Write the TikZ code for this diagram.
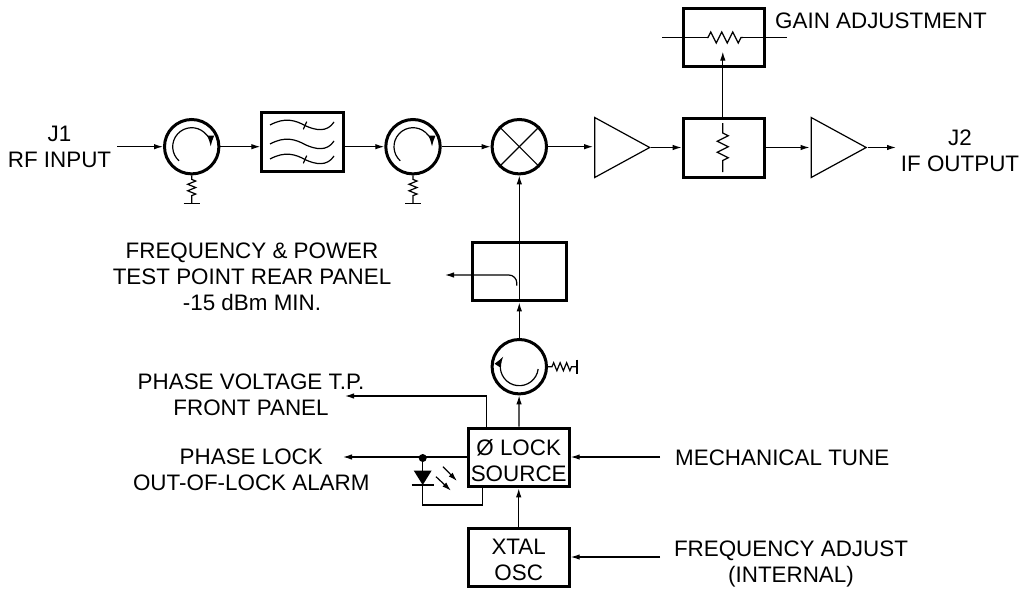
\documentclass[tikz,border=0pt]{standalone}
\usepackage{fontspec}
\setmainfont{Liberation Sans}
\usetikzlibrary{arrows.meta}
\usetikzlibrary{positioning}
\usetikzlibrary{shapes.geometric}
\usetikzlibrary{decorations.pathmorphing}
\tikzset{
    tag/.style={font=\fontsize{22.4pt}{26pt}\selectfont, align=center, inner sep=0pt},
    unit/.style={draw, line width=3pt, minimum width=81.3pt, minimum height=58.7pt, inner sep=0pt},
    smallunit/.style={unit, tag, minimum width=101pt},
    disc/.style={draw, circle, line width=3pt, minimum size=54.4pt, inner sep=0pt},
    amp/.style={draw, line width=1.2pt, isosceles triangle, isosceles triangle stretches, shape border rotate=0,
        minimum width=60pt, minimum height=55pt, inner sep=0pt},
    wire/.style={line width=1.2pt},
    link/.style={wire, -{Latex[length=9pt,width=5.5pt]}},
    spin/.style={wire, -{Latex[length=11pt,width=7pt]}},
    zig/.style={wire, decorate, decoration={zigzag, segment length=6.5pt, amplitude=4pt, pre length=4pt, post length=5pt}},
    bigzig/.style={wire, decorate, decoration={zigzag, segment length=11pt, amplitude=5.5pt, pre length=1pt, post length=1pt}},
}
\begin{document}
\begin{tikzpicture}[x=1pt, y=-1pt]
    \useasboundingbox (0,0) rectangle (1025,589);
    % top row
    \node [disc] (mixer) at (519.3,146.7) {};
    \node [disc, left=48.9pt of mixer] (circB) {};
    \node [disc] (circA) at (191.7,146.7) {};
    \node [unit] (filter) at (302.5,142) {};
    \node [amp] (ampA) at (612.5,147.5) {};
    \node [unit] (atten) at (723.8,148) {};
    \node [amp] (ampB) at (829,147.5) {};
    \node [unit, above=48.7pt of atten] (gain) {};
    % vertical chain
    \node [unit, minimum width=94pt, below=65.3pt of mixer] (coupler) {};
    \node [disc, below=35.6pt of coupler] (circC) {};
    \node [smallunit] (lock) at (518.7,457.5) {\rule{0pt}{23pt}Ø LOCK\\SOURCE};
    \node [smallunit, below=38.4pt of lock] (xtal) {\rule{0pt}{20pt}XTAL\\OSC};
    % labels
    \node [tag] (j1) at (59.5,147) {J1\\RF INPUT};
    \node [tag] (j2) at (960,151) {J2\\IF OUTPUT};
    \node [tag, anchor=west] (gainlab) at (775,21) {GAIN ADJUSTMENT};
    \node [tag] (testlab) at (252,277) {FREQUENCY \& POWER\\TEST POINT REAR PANEL\\-15 dBm MIN.};
    \node [tag] (phaselab) at (251,394.5) {PHASE VOLTAGE T.P.\\FRONT PANEL};
    \node [tag] (alarmlab) at (251.3,470) {PHASE LOCK\\OUT-OF-LOCK ALARM};
    \node [tag, anchor=west] (mechlab) at (675,458) {MECHANICAL TUNE};
    \node [tag] (freqlab) at (791,564) {FREQUENCY ADJUST\\(INTERNAL)};
    % free ends
    \coordinate (j1east) at (117,146.7);
    \coordinate (j2west) at (896,147.5);
    \coordinate (mechend) at (660,457);
    \coordinate (freqend) at (660,557);
    \coordinate (tapend) at (445,275);
    \coordinate (phaseend) at (345,396);
    \coordinate (alarmend) at (343,457);
    \coordinate (dot) at (422.7,458);
    \coordinate (ledtop) at (422.7,485);
    \coordinate (ledfoot) at (422.7,505);
    \coordinate (ledret) at (482.7,505);
    % top row connectors
    \draw [link] (j1east) -- (circA);
    \draw [link] (circA) -- (filter.west |- circA);
    \draw [link] (filter.east |- circB) -- (circB);
    \draw [link] (circB) -- (mixer);
    \draw [link] (mixer) -- ([xshift=-1pt]ampA.lower side |- mixer);
    \draw [link] (ampA.apex) -- (atten.west |- ampA.apex);
    \draw [link] (atten.east |- ampB.apex) -- ([xshift=-1pt]ampB.lower side |- ampB.apex);
    \draw [link] (ampB.apex) -- (j2west);
    \draw [link] ([xshift=-1pt]atten.north) -- ([shift={(-1pt,-14pt)}]gain.center);
    % vertical connectors
    \draw [link] (coupler.south) -- (mixer);
    \draw [link] (circC) -- (coupler);
    \draw [link] (lock) -- (circC);
    \draw [link] (xtal) -- (lock);
    \draw [link] (mechend) -- (lock.east |- mechend);
    \draw [link] (freqend) -- (xtal.east |- freqend);
    \draw [link, rounded corners=8pt] ([shift={(-2.5pt,-14pt)}]coupler.center) |- (tapend);
    \draw [link] ([xshift=-32pt]lock.north) |- (phaseend);
    \draw [link] (lock.west |- alarmend) -- (alarmend);
    % led
    \fill (dot) circle (4pt);
    \draw [wire] (dot) -- (ledfoot) -- (ledret) -- (ledret |- lock.south);
    \fill (ledtop) -- ++(-9,-14.5) -- ++(18,0) -- cycle;
    \draw [wire] ([xshift=-11pt]ledtop) -- ([xshift=11pt]ledtop);
    \draw [link] (443,466.7) -- (457,481);
    \draw [link] (436,476.7) -- (451,490.7);
    % circulators
    \foreach \c in {circA, circB}
        \draw [spin] ([shift={(228:19pt)}]\c.center) arc [start angle=228, end angle=0, radius=19pt];
    \draw [spin] ([shift={(-7:19pt)}]circC.center) arc [start angle=-7, end angle=-213, radius=19pt];
    \foreach \c in {circA, circB} {
        \draw [zig] (\c.south) -- ++(0,28);
        \draw [wire] (\c.south) ++(-8,28) -- ++(16,0);
    }
    \draw [zig] (circC.east) -- ++(29,0);
    \draw [wire] (circC.east) ++(29,-7) -- ++(0,14);
    % filter
    \foreach \y in {0,19,34}
        \draw [wire, yshift=-\y pt] (270,125) .. controls (285,117) and (295,120) .. (306,126) .. controls (315,130) and (327,133) .. (334,122);
    \foreach \y in {0,34}
        \draw [wire, yshift=-\y pt] (303.3,129.3) -- (306.7,121.7);
    % mixer cross
    \draw [wire] (mixer.north west) -- (mixer.south east);
    \draw [wire] (mixer.north east) -- (mixer.south west);
    % resistors
    \draw [wire] (662,37.5) -- (707,37.5);
    \draw [bigzig] (707,37.5) -- (743,37.5);
    \draw [wire] (743,37.5) -- (787,37.5);
    \draw [bigzig, decoration={pre length=10pt, post length=7pt}] (722.7,123) -- (722.7,172);
\end{tikzpicture}
\end{document}
